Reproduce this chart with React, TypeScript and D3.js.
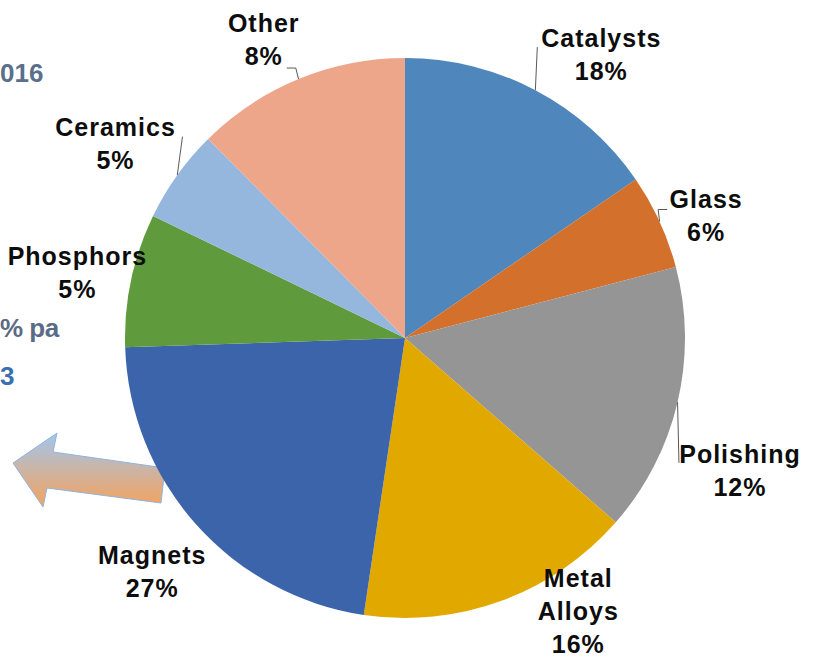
import * as d3 from "d3";
import { useEffect, useRef } from "react";

// slice sizes as drawn, and the percentages printed on the labels
const categories = [
  "Catalysts",
  "Glass",
  "Polishing",
  "Metal Alloys",
  "Magnets",
  "Phosphors",
  "Ceramics",
  "Other",
];
const shares = [15.4, 5.5, 15.5, 15.9, 22.1, 7.7, 5.4, 12.4];
const percentLabels = ["18%", "6%", "12%", "16%", "27%", "5%", "5%", "8%"];

const palette = [
  "#4f86bb",
  "#d3702c",
  "#959595",
  "#e1a900",
  "#3c64aa",
  "#5f9a3d",
  "#95b7de",
  "#eea68a",
];

// manual label placement (Excel style), relative to the radial spot
const labelNudge: Record<string, [number, number]> = {
  Catalysts: [38, 17],
  Glass: [-8, 19],
  Polishing: [4, 55],
  "Metal Alloys": [56, -46],
  Magnets: [1, 7],
  Phosphors: [5, 5],
  Ceramics: [-13, 3],
  Other: [-12, 16],
};

// leader line end, relative to the label anchor
const leaders: Record<string, { dx: number; dy: number; elbow: number }> = {
  Catalysts: { dx: -64, dy: -7, elbow: 0 },
  Glass: { dx: -39, dy: -6, elbow: -9 },
  Polishing: { dx: -61, dy: -8, elbow: 0 },
  Ceramics: { dx: 67, dy: -6.5, elbow: 0 },
  Other: { dx: 23, dy: 28.5, elbow: 9 },
};

const W = 814;
const H = 662;

export default function App() {
  const ref = useRef<SVGSVGElement | null>(null);

  useEffect(() => {
    const svg = d3.select(ref.current);
    svg.selectAll("*").remove();

    const cx = 405;
    const cy = 338;
    const radius = 280;
    const font = "'Liberation Sans', Arial, sans-serif";

    // leftovers of the slide behind the chart
    const defs = svg.append("defs");
    const grad = defs
      .append("linearGradient")
      .attr("id", "arrowGrad")
      .attr("x1", "0%")
      .attr("y1", "0%")
      .attr("x2", "0%")
      .attr("y2", "100%");
    grad.append("stop").attr("offset", "0%").attr("stop-color", "#a2c6ec");
    grad.append("stop").attr("offset", "100%").attr("stop-color", "#f5a25c");

    svg
      .append("polygon")
      .attr("points", "13,463 57,433 53,452 165,468 161,503 47,488 43,507")
      .attr("fill", "url(#arrowGrad)")
      .attr("stroke", "#8fb4de")
      .attr("stroke-width", 1);

    const slideText = svg
      .append("g")
      .style("font-family", font)
      .style("font-weight", "bold")
      .style("font-size", "26px");
    slideText
      .append("text")
      .attr("x", 0)
      .attr("y", 82)
      .attr("fill", "#5b6f8c")
      .text("016");
    slideText
      .append("text")
      .attr("x", 0)
      .attr("y", 337)
      .attr("fill", "#5b6b85")
      .style("letter-spacing", "-0.5px")
      .text("% pa");
    slideText
      .append("text")
      .attr("x", 0)
      .attr("y", 385)
      .attr("fill", "#3a6fb0")
      .text("3");

    const data = categories.map((c, i) => ({
      name: c,
      value: shares[i],
      pct: percentLabels[i],
    }));

    const pie = d3
      .pie<any>()
      .value((d) => d.value)
      .sort(null);
    const arc = d3.arc<any>().innerRadius(0).outerRadius(radius);
    const edgeArc = d3.arc<any>().innerRadius(radius).outerRadius(radius);
    const labelArc = d3.arc<any>().innerRadius(340).outerRadius(340);
    const color = d3.scaleOrdinal<string>().domain(categories).range(palette);

    const g = svg.append("g").attr("transform", `translate(${cx}, ${cy})`);
    const arcs = pie(data);

    g.selectAll("path.slice")
      .data(arcs)
      .enter()
      .append("path")
      .attr("class", "slice")
      .attr("d", arc)
      .attr("fill", (d) => color(d.data.name));

    const lineHeight = 33;

    arcs.forEach((d) => {
      const [lx, ly] = labelArc.centroid(d);
      const [nx, ny] = labelNudge[d.data.name];
      const ax = lx + nx;
      const ay = ly + ny;

      // leader line
      const lead = leaders[d.data.name];
      if (lead) {
        const [ex, ey] = edgeArc.centroid(d);
        const end: [number, number] = [ax + lead.dx, ay + lead.dy];
        const pts: [number, number][] = [[ex, ey]];
        if (lead.elbow) pts.push([end[0] + lead.elbow, end[1]]);
        pts.push(end);
        g.append("path")
          .attr("d", d3.line()(pts))
          .attr("fill", "none")
          .attr("stroke", "#595959")
          .attr("stroke-width", 1);
      }

      const lines = [...d.data.name.split(" "), d.data.pct];
      const first = ay - ((lines.length - 1) * lineHeight) / 2 + 9;
      lines.forEach((t, k) => {
        g.append("text")
          .attr("x", ax)
          .attr("y", first + k * lineHeight)
          .attr("text-anchor", "middle")
          .style("font-family", font)
          .style("font-weight", "bold")
          .style("font-size", "25px")
          .style("letter-spacing", "1px")
          .attr("fill", "#0d0d0d")
          .text(t);
      });
    });
  }, []);

  return (
    <svg
      ref={ref}
      width={W}
      height={H}
      style={{ position: "absolute", left: 0, top: 0, background: "#fff" }}
    ></svg>
  );
}
